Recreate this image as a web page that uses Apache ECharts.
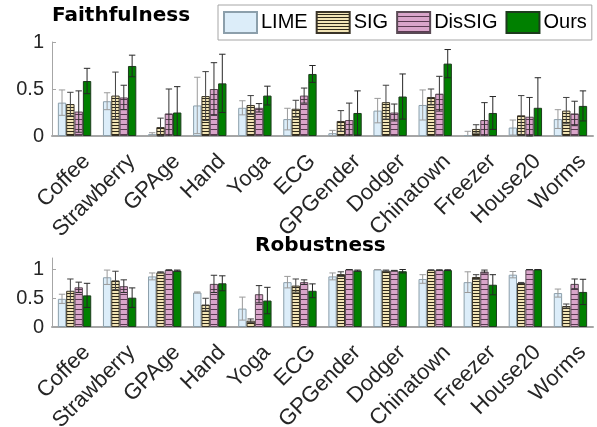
<!DOCTYPE html>
<html>
<head>
<meta charset="utf-8">
<script src="https://cdn.jsdelivr.net/npm/echarts@6/dist/echarts.min.js"></script>
<style>
  html, body { margin: 0; padding: 0; background: #fff; }
  #main { width: 597px; height: 427px; }
</style>
</head>
<body>
<div id="main"></div>
<script>
const categories = ['Coffee', 'Strawberry', 'GPAge', 'Hand', 'Yoga', 'ECG', 'GPGender', 'Dodger', 'Chinatown', 'Freezer', 'House20', 'Worms'];
const methods = ['LIME', 'SIG', 'DisSIG', 'Ours'];
const yTicks = [0, 0.5, 1];

// Faithfulness: mean and error (half length)
const faithLime = [0.355, 0.37, 0.02, 0.325, 0.30, 0.18, 0.03, 0.27, 0.33, 0.01, 0.09, 0.18];
const faithLimeErr = [0.135, 0.09, 0.015, 0.30, 0.075, 0.115, 0.03, 0.13, 0.16, 0.04, 0.08, 0.10];
const faithSig = [0.34, 0.43, 0.095, 0.425, 0.33, 0.29, 0.16, 0.36, 0.415, 0.075, 0.22, 0.27];
const faithSigErr = [0.125, 0.25, 0.095, 0.26, 0.10, 0.09, 0.11, 0.18, 0.085, 0.045, 0.21, 0.14];
const faithDis = [0.26, 0.41, 0.24, 0.50, 0.30, 0.43, 0.17, 0.25, 0.45, 0.17, 0.205, 0.24];
const faithDisErr = [0.22, 0.13, 0.26, 0.28, 0.045, 0.08, 0.18, 0.09, 0.185, 0.185, 0.205, 0.13];
const faithOurs = [0.585, 0.745, 0.25, 0.56, 0.43, 0.66, 0.245, 0.42, 0.77, 0.245, 0.30, 0.32];
const faithOursErr = [0.135, 0.115, 0.275, 0.31, 0.10, 0.09, 0.235, 0.24, 0.15, 0.175, 0.32, 0.16];

// Robustness
const robLime = [0.49, 0.865, 0.88, 0.60, 0.32, 0.78, 0.88, 1.0, 0.835, 0.78, 0.91, 0.59];
const robLimeErr = [0.08, 0.125, 0.06, 0.01, 0.20, 0.10, 0.06, 0.0, 0.075, 0.18, 0.055, 0.07];
const robSig = [0.63, 0.81, 0.95, 0.39, 0.11, 0.72, 0.92, 0.98, 0.99, 0.87, 0.765, 0.365];
const robSigErr = [0.205, 0.16, 0.01, 0.11, 0.03, 0.115, 0.04, 0.01, 0.005, 0.04, 0.01, 0.035];
const robDis = [0.69, 0.71, 0.99, 0.75, 0.57, 0.78, 1.0, 0.98, 0.99, 0.965, 1.0, 0.75];
const robDisErr = [0.09, 0.11, 0.005, 0.15, 0.15, 0.04, 0.0, 0.005, 0.005, 0.025, 0.0, 0.085];
const robOurs = [0.55, 0.51, 0.98, 0.76, 0.46, 0.63, 0.98, 0.97, 0.99, 0.735, 1.0, 0.61];
const robOursErr = [0.21, 0.17, 0.01, 0.13, 0.23, 0.12, 0.01, 0.03, 0.005, 0.175, 0.0, 0.22];

const GAP = 0.26;

function stripes(w, h, bg, fg) {
  const c = document.createElement('canvas');
  c.width = w; c.height = h;
  const ctx = c.getContext('2d');
  ctx.fillStyle = bg;
  ctx.fillRect(0, 0, w, h);
  ctx.fillStyle = fg;
  ctx.fillRect(0, h - 1, w, 1);
  return c;
}

const styles = [
  { color: '#dcedf9', borderColor: '#8c9fab', err: '#9a9a9a' },
  { color: { image: stripes(8, 3, '#f1e4b6', '#2e2819'), repeat: 'repeat' }, borderColor: '#3a3428', err: '#404040' },
  { color: { image: stripes(8, 5, '#d9a5ca', '#5b3a52'), repeat: 'repeat' }, borderColor: '#5a4a55', err: '#303030' },
  { color: '#008000', borderColor: '#1d3b1d', err: '#262626' }
];

const chart = echarts.init(document.getElementById('main'));

function barSeries(k, values, gi) {
  return {
    name: methods[k],
    type: 'bar',
    xAxisIndex: gi,
    yAxisIndex: gi,
    data: values,
    barGap: '0%',
    barCategoryGap: GAP * 100 + '%',
    itemStyle: { color: styles[k].color, borderColor: styles[k].borderColor, borderWidth: 1 },
    emphasis: { disabled: true },
    animation: false
  };
}

function errSeries(k, values, errs, gi) {
  return {
    type: 'custom',
    xAxisIndex: gi,
    yAxisIndex: gi,
    z: 5,
    animation: false,
    silent: true,
    data: values.map((v, i) => [i, v, errs[i]]),
    renderItem: (params, api) => {
      const i = api.value(0), v = api.value(1), e = api.value(2);
      const band = api.size([1, 0])[0];
      const bw = band * (1 - GAP) / 4;
      const cx = api.coord([i, v])[0] + (k - 1.5) * bw;
      const yTop = api.coord([i, v + e])[1];
      const lo = v - e;
      const yBot = api.coord([i, Math.max(lo, 0)])[1];
      const cap = 3.2;
      const st = { stroke: styles[k].err, lineWidth: 1 };
      const kids = [
        { type: 'line', shape: { x1: cx, y1: yTop, x2: cx, y2: yBot }, style: st },
        { type: 'line', shape: { x1: cx - cap, y1: yTop, x2: cx + cap, y2: yTop }, style: st }
      ];
      if (lo >= 0) kids.push({ type: 'line', shape: { x1: cx - cap, y1: yBot, x2: cx + cap, y2: yBot }, style: st });
      return { type: 'group', children: kids };
    }
  };
}

const axisFont = { fontFamily: 'Liberation Sans', fontSize: 20, color: '#262626' };

function xAxis(gi) {
  return {
    type: 'category',
    gridIndex: gi,
    data: categories,
    axisLine: { lineStyle: { color: '#a6a6a6', width: 2 } },
    axisTick: { alignWithLabel: true, length: 3, lineStyle: { color: '#404040' } },
    axisLabel: Object.assign({}, axisFont, {
      rotate: 45, interval: 0, margin: 10, fontSize: 22,
      align: 'right', verticalAlign: 'top', lineHeight: 34
    })
  };
}

function yAxis(gi, max) {
  return {
    type: 'value',
    gridIndex: gi,
    min: 0,
    max: max,
    axisLine: { show: true, lineStyle: { color: '#a6a6a6', width: 1 } },
    axisTick: { show: true, inside: true, length: 4, customValues: yTicks, lineStyle: { color: '#a6a6a6' } },
    axisLabel: Object.assign({ margin: 8, customValues: yTicks, formatter: v => String(v) }, axisFont),
    splitLine: { show: false }
  };
}

const series = [];
const faith = [[faithLime, faithLimeErr], [faithSig, faithSigErr], [faithDis, faithDisErr], [faithOurs, faithOursErr]];
const rob = [[robLime, robLimeErr], [robSig, robSigErr], [robDis, robDisErr], [robOurs, robOursErr]];
faith.forEach((d, k) => series.push(barSeries(k, d[0], 0)));
rob.forEach((d, k) => series.push(barSeries(k, d[0], 1)));
faith.forEach((d, k) => series.push(errSeries(k, d[0], d[1], 0)));
rob.forEach((d, k) => series.push(errSeries(k, d[0], d[1], 1)));

chart.setOption({
  animation: false,
  title: [
    { text: 'Faithfulness', left: 52, top: 6, padding: 0,
      textStyle: { fontFamily: 'DejaVu Sans', fontWeight: 'bold', fontSize: 20, color: '#000' } },
    { text: 'Robustness', left: 255, top: 236, padding: 0,
      textStyle: { fontFamily: 'DejaVu Sans', fontWeight: 'bold', fontSize: 20, color: '#000' } }
  ],
  legend: {
    data: methods,
    left: 218,
    top: 5,
    padding: [6, 5, 6, 5],
    itemWidth: 33,
    itemHeight: 21,
    itemGap: 8,
    icon: 'rect',
    borderColor: '#a6a6a6',
    borderWidth: 1,
    backgroundColor: '#fff',
    selectedMode: false,
    textStyle: { fontFamily: 'Liberation Sans', fontSize: 20, color: '#000', padding: [0, 0, 0, -1] }
  },
  grid: [
    { left: 52, right: 4, top: 42, height: 94, outerBoundsMode: 'none' },
    { left: 52, right: 4, top: 258, height: 69, outerBoundsMode: 'none' }
  ],
  xAxis: [xAxis(0), xAxis(1)],
  yAxis: [yAxis(0, 1), yAxis(1, 1.2)],
  series: series
});
</script>
</body>
</html>
